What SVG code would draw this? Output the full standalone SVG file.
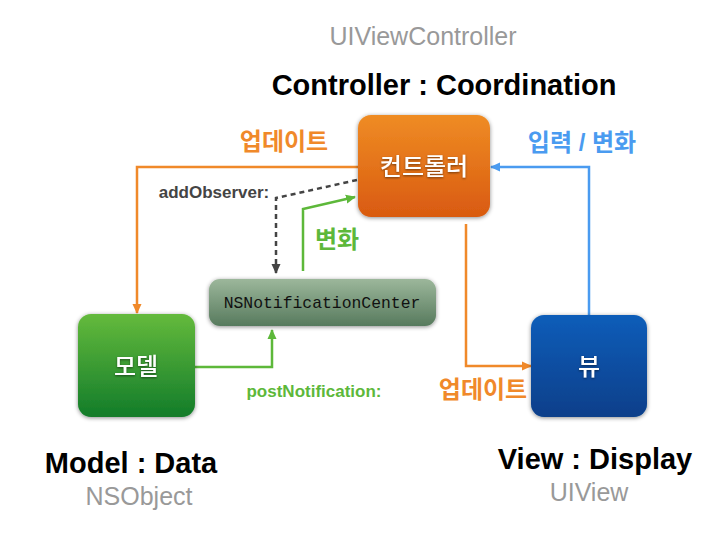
<svg xmlns="http://www.w3.org/2000/svg" width="715" height="535" viewBox="0 0 715 535">
<style>
text{font-family:"Liberation Sans","Noto Sans CJK KR",sans-serif;text-anchor:middle}
.title{font-size:29px;font-weight:bold;fill:#000}
.cls{font-size:25px;fill:#999}
.lbl{font-size:24px;font-weight:bold}
.node{font-size:24px;fill:#fff;font-weight:500}
.sel{font-size:17px;font-weight:bold}
.mono{font-family:"Liberation Mono","DejaVu Sans Mono",monospace;font-size:16.4px;fill:#111}
.ln{fill:none;stroke-width:2.5}
</style>
<defs>
<linearGradient id="gC" x1="0" y1="0" x2="0" y2="1"><stop offset="0" stop-color="#EF8C24"/><stop offset="1" stop-color="#D95A10"/></linearGradient>
<linearGradient id="gM" x1="0" y1="0" x2="0" y2="1"><stop offset="0" stop-color="#64BA3C"/><stop offset="1" stop-color="#127C2A"/></linearGradient>
<linearGradient id="gV" x1="0" y1="0" x2="0" y2="1"><stop offset="0" stop-color="#0B5DB9"/><stop offset="1" stop-color="#073F8A"/></linearGradient>
<linearGradient id="gN" x1="0" y1="0" x2="0" y2="1"><stop offset="0" stop-color="#9CB79B"/><stop offset="1" stop-color="#577A5D"/></linearGradient>
<filter id="sh" x="-20%" y="-20%" width="140%" height="140%"><feDropShadow dx="0" dy="1" stdDeviation="2" flood-color="#000" flood-opacity="0.45"/></filter>
<filter id="ts" x="-10%" y="-10%" width="120%" height="130%"><feDropShadow dx="0" dy="1" stdDeviation="0.8" flood-color="#000" flood-opacity="0.5"/></filter>
<marker id="aO" markerUnits="userSpaceOnUse" markerWidth="10" markerHeight="10" refX="9" refY="5" orient="auto" viewBox="0 0 10 10"><path d="M0,0.5 L10,5 L0,9.5 z" fill="#F0892A"/></marker>
<marker id="aB" markerUnits="userSpaceOnUse" markerWidth="10" markerHeight="10" refX="9" refY="5" orient="auto" viewBox="0 0 10 10"><path d="M0,0.5 L10,5 L0,9.5 z" fill="#4A9BF0"/></marker>
<marker id="aG" markerUnits="userSpaceOnUse" markerWidth="10" markerHeight="10" refX="9" refY="5" orient="auto" viewBox="0 0 10 10"><path d="M0,0.5 L10,5 L0,9.5 z" fill="#5DB83A"/></marker>
<marker id="aD" markerUnits="userSpaceOnUse" markerWidth="10" markerHeight="10" refX="9" refY="5" orient="auto" viewBox="0 0 10 10"><path d="M0,0.5 L10,5 L0,9.5 z" fill="#444"/></marker>
</defs>
<rect width="715" height="535" fill="#fff"/>

<g id="connectors">
<path class="ln" d="M358,167 H137 V313" stroke="#F0892A" marker-end="url(#aO)"/>
<path class="ln" d="M357,180 L276,198 V273" stroke="#444" stroke-dasharray="5,4" stroke-width="2.2" marker-end="url(#aD)"/>
<path class="ln" d="M303,271 V209 L355,197" stroke="#5DB83A" marker-end="url(#aG)"/>
<path class="ln" d="M195,367 H272 V330" stroke="#5DB83A" marker-end="url(#aG)"/>
<path class="ln" d="M466,224 V366 H531" stroke="#F0892A" marker-end="url(#aO)"/>
<path class="ln" d="M589,315 V167 H491" stroke="#4A9BF0" marker-end="url(#aB)"/>
</g>

<g id="controller">
<rect x="358" y="115" width="132" height="102" rx="13" fill="url(#gC)" filter="url(#sh)"/>
<text class="node" x="424" y="175" filter="url(#ts)">컨트롤러</text>
</g>
<g id="model">
<rect x="78" y="314" width="117" height="103" rx="13" fill="url(#gM)" filter="url(#sh)"/>
<text class="node" x="136" y="375" filter="url(#ts)">모델</text>
</g>
<g id="view">
<rect x="531" y="315" width="116" height="102" rx="13" fill="url(#gV)" filter="url(#sh)"/>
<text class="node" x="589" y="375" filter="url(#ts)">뷰</text>
</g>
<g id="nsnc">
<rect x="209" y="279" width="227" height="47" rx="11" fill="url(#gN)" filter="url(#sh)"/>
<text class="mono" x="322" y="308">NSNotificationCenter</text>
</g>

<g id="labels">
<text class="cls" x="423" y="45">UIViewController</text>
<text class="title" x="444" y="95">Controller : Coordination</text>
<text class="title" x="131" y="473">Model : Data</text>
<text class="cls" x="139" y="505">NSObject</text>
<text class="title" x="595" y="469">View : Display</text>
<text class="cls" x="589" y="501">UIView</text>
<text class="lbl" x="284" y="150" fill="#F0892A">업데이트</text>
<text class="lbl" x="582" y="151" fill="#4A9BF0">입력 / 변화</text>
<text class="lbl" x="337" y="248" fill="#5DB83A">변화</text>
<text class="lbl" x="483" y="398" fill="#F0892A">업데이트</text>
<text class="sel" x="214" y="198" fill="#444">addObserver:</text>
<text class="sel" x="314" y="397" fill="#5DB83A">postNotification:</text>
</g>
</svg>
